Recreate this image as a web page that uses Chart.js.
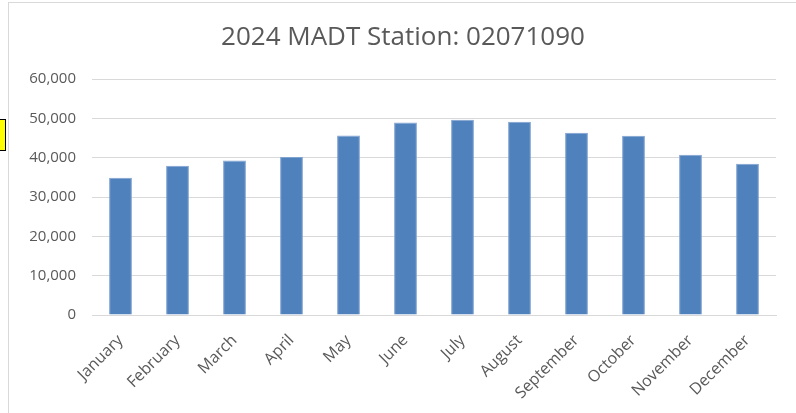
<!DOCTYPE html>
<html>
<head>
<meta charset="utf-8">
<script src="https://cdn.jsdelivr.net/npm/chart.js@4/dist/chart.umd.min.js"></script>
<style>
  html, body { margin: 0; padding: 0; background: #fff; }
  body { width: 796px; height: 413px; position: relative; overflow: hidden; }
  #frame { position: absolute; left: 8px; top: 2px; width: 820px; height: 440px;
           border-left: 1px solid #d9d9d9; border-top: 1px solid #d9d9d9; }
  #marker { position: absolute; left: -2px; top: 119px; width: 6px; height: 30px;
            background: #ffff00; border: 1px solid #000; }
  #chart-area { position: absolute; left: 0; top: 0; }
</style>
</head>
<body>
<div id="frame"></div>
<div id="marker"></div>
<canvas id="chart-area" width="796" height="413"></canvas>
<script>
var months = ['January', 'February', 'March', 'April', 'May', 'June',
  'July', 'August', 'September', 'October', 'November', 'December'];
var madt = [34900, 38000, 39300, 40200, 45700, 49000,
  49700, 49200, 46400, 45600, 40800, 38500];
var yTicks = [0, 10000, 20000, 30000, 40000, 50000, 60000];

var textGray = '#595959';
var gridGray = '#d9d9d9';
var fontFamily = '"Open Sans", "Noto Sans", sans-serif';

var config = {
  type: 'bar',
  data: {
    labels: months,
    datasets: [{
      label: 'MADT',
      data: madt,
      backgroundColor: '#4f81bd',
      borderColor: '#7fa3cf',
      borderWidth: 1,
      barPercentage: 0.8,
      categoryPercentage: 0.5
    }]
  },
  options: {
    responsive: false,
    animation: false,
    // left padding keeps the title centred over the frame
    layout: { padding: { left: 10, right: 0, top: 0, bottom: 0 } },
    plugins: {
      legend: { display: false },
      tooltip: { enabled: false },
      title: {
        display: true,
        text: '2024 MADT Station: 02071090',
        color: textGray,
        font: { family: fontFamily, size: 26, weight: 'normal' },
        padding: { top: 22, bottom: 26 }
      }
    },
    scales: {
      x: {
        grid: { display: false, drawTicks: false },
        border: { display: true, color: gridGray, width: 1 },
        ticks: {
          color: textGray,
          font: { family: fontFamily, size: 16 },
          minRotation: 45,
          maxRotation: 45,
          padding: 16,
          autoSkip: false
        },
        afterFit: function (scale) { scale.height = 98; }
      },
      y: {
        min: 0,
        max: 60000,
        afterBuildTicks: function (scale) {
          scale.ticks = yTicks.map(function (v) { return { value: v }; });
        },
        grid: { color: gridGray, lineWidth: 1, drawTicks: false },
        border: { display: false },
        ticks: {
          color: textGray,
          font: { family: fontFamily, size: 15 },
          padding: 16,
          callback: function (v) { return v.toLocaleString('en-US'); }
        },
        afterFit: function (scale) { scale.width = 82; }
      },
      // empty spacer on the right side of the plot
      spacer: {
        type: 'linear',
        position: 'right',
        grid: { display: false, drawTicks: false },
        border: { display: false },
        ticks: { display: false },
        afterFit: function (scale) { scale.width = 20; }
      }
    }
  }
};

var ctx = document.getElementById('chart-area').getContext('2d');
var madtChart = new Chart(ctx, config);
</script>
</body>
</html>
